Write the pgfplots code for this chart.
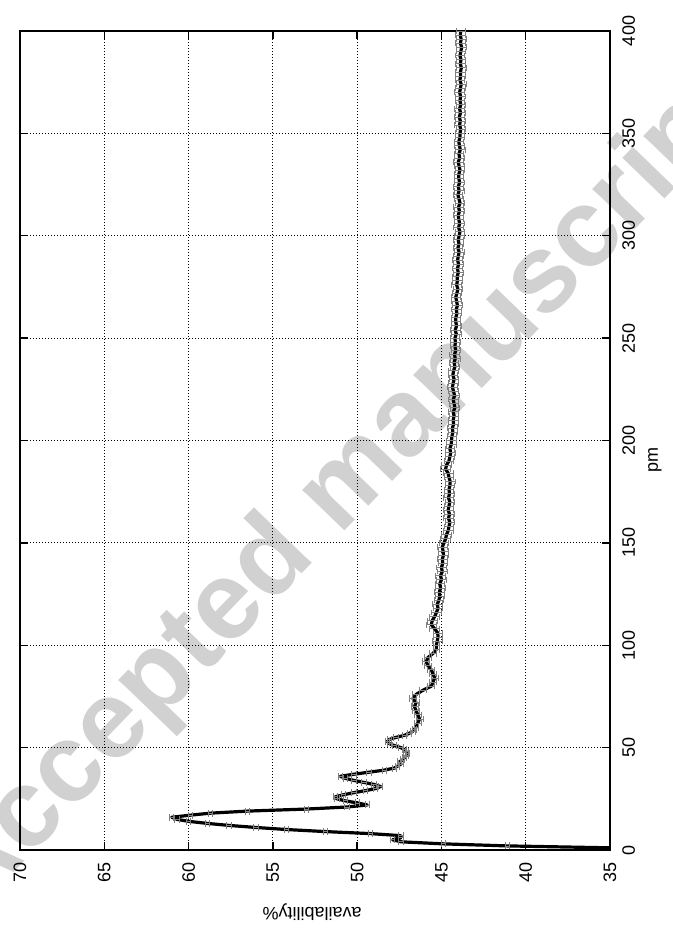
\documentclass[border=0pt]{standalone}
\usepackage{fontspec}
\setmainfont{Liberation Sans}
\usepackage{pgfplots}
\usepackage{pgfplotstable}
\pgfplotsset{compat=1.18}
\definecolor{mk}{gray}{0.5}
\definecolor{wm}{gray}{0.82}

\pgfdeclareplotmark{ebarA}{%
 \pgfpathmoveto{\pgfqpoint{-1.6pt}{-2.6pt}}\pgfpathlineto{\pgfqpoint{-1.6pt}{2.6pt}}%
 \pgfpathmoveto{\pgfqpoint{1.6pt}{-2.6pt}}\pgfpathlineto{\pgfqpoint{1.6pt}{2.6pt}}%
 \pgfpathmoveto{\pgfqpoint{-1.6pt}{0pt}}\pgfpathlineto{\pgfqpoint{1.6pt}{0pt}}%
 \pgfusepathqstroke}
\pgfdeclareplotmark{ebarB}{%
 \pgfpathmoveto{\pgfqpoint{-2.6pt}{-2.4pt}}\pgfpathlineto{\pgfqpoint{-2.6pt}{2.4pt}}%
 \pgfpathmoveto{\pgfqpoint{2.6pt}{-2.4pt}}\pgfpathlineto{\pgfqpoint{2.6pt}{2.4pt}}%
 \pgfpathmoveto{\pgfqpoint{-2.6pt}{0pt}}\pgfpathlineto{\pgfqpoint{2.6pt}{0pt}}%
 \pgfusepathqstroke}
\pgfdeclareplotmark{ebarC}{%
 \pgfpathmoveto{\pgfqpoint{-3.6pt}{-2.2pt}}\pgfpathlineto{\pgfqpoint{-3.6pt}{2.2pt}}%
 \pgfpathmoveto{\pgfqpoint{3.6pt}{-2.2pt}}\pgfpathlineto{\pgfqpoint{3.6pt}{2.2pt}}%
 \pgfpathmoveto{\pgfqpoint{-3.6pt}{0pt}}\pgfpathlineto{\pgfqpoint{3.6pt}{0pt}}%
 \pgfusepathqstroke}

\pgfplotstableread{
pm av
1 34.6
2 41.1
3 44.9
4 47.4
5 47.9
6 47.4
7 47.4
8 49.2
9 51.9
10 54.2
11 56.0
12 57.6
13 58.9
14 60.0
15 60.7
16 61.0
17 59.9
18 58.7
19 56.5
20 53.0
21 50.6
22 49.4
23 50.0
24 50.7
25 51.2
26 51.3
27 50.8
28 50.2
29 49.5
30 48.9
31 48.6
32 49.0
33 49.6
34 50.2
35 50.7
36 51.0
37 50.2
38 49.3
39 48.4
40 47.8
41 47.6
42 47.4
43 47.5
44 47.3
45 47.2
46 47.1
47 47.0
48 47.1
49 47.2
50 47.4
51 47.8
52 48.1
53 48.2
54 48.1
55 47.7
56 47.2
57 46.9
58 46.7
59 46.6
60 46.5
62 46.4
64 46.3
66 46.4
68 46.5
70 46.6
72 46.5
74 46.7
76 46.5
78 46.1
80 45.6
82 45.5
84 45.4
86 45.5
88 45.6
90 45.8
92 45.9
94 45.8
96 45.5
98 45.3
100 45.30
102 45.25
104 45.20
106 45.22
108 45.40
110 45.60
112 45.55
114 45.40
116 45.30
118 45.20
120 45.25
122 45.15
124 45.10
126 45.12
128 45.05
130 45.10
132 45.00
134 45.05
136 44.95
138 45.00
140 44.92
142 44.95
144 44.88
146 44.90
148 44.95
150 44.85
152 44.75
154 44.70
156 44.60
158 44.55
160 44.50
162 44.58
164 44.52
166 44.60
168 44.55
170 44.50
172 44.58
174 44.52
176 44.55
178 44.50
180 44.48
182 44.55
184 44.60
186 44.75
188 44.70
190 44.55
192 44.50
194 44.45
196 44.50
198 44.42
200 44.40
202 44.38
204 44.32
206 44.35
208 44.28
210 44.30
212 44.25
214 44.30
216 44.20
218 44.25
220 44.30
222 44.22
224 44.28
226 44.35
228 44.30
230 44.25
232 44.32
234 44.28
236 44.20
238 44.25
240 44.18
242 44.22
244 44.15
246 44.20
248 44.17
250 44.20
252 44.12
254 44.18
256 44.10
258 44.15
260 44.15
262 44.08
264 44.12
266 44.05
268 44.10
270 44.15
272 44.08
274 44.02
276 44.10
278 44.05
280 44.07
282 44.00
284 44.05
286 43.98
288 44.04
290 44.00
292 43.95
294 44.02
296 43.96
298 44.00
300 43.95
302 43.90
304 43.98
306 43.92
308 43.97
310 44.00
312 43.93
314 43.98
316 43.90
318 43.96
320 44.02
322 43.95
324 44.00
326 43.92
328 43.97
330 43.97
332 43.90
334 43.95
336 44.00
338 43.92
340 43.96
342 43.88
344 43.93
346 43.97
348 43.90
350 43.90
352 43.85
354 43.92
356 43.88
358 43.94
360 43.87
362 43.92
364 43.85
366 43.90
368 43.86
370 43.92
372 43.87
374 43.83
376 43.90
378 43.86
380 43.87
382 43.82
384 43.88
386 43.84
388 43.90
390 43.85
392 43.80
394 43.87
396 43.83
398 43.88
400 43.85
}\data

\begin{document}
\begin{tikzpicture}
\node[rotate=46, text=wm, font=\fontsize{83}{83}\selectfont\bfseries] at (256.5pt,328.5pt) {Accepted manuscript};
\begin{axis}[
  at={(15pt,60pt)}, anchor=south west,
  scale only axis, width=442.5pt, height=614.25pt,
  xmin=35, xmax=70, x dir=reverse, ymin=0, ymax=400,
  xtick={35,40,...,70}, ytick={0,50,...,400},
  tick align=inside, major tick length=6pt,
  xticklabel pos=left, yticklabel pos=right,
  xtick pos=both, ytick pos=both,
  grid=major,
  major grid style={black, line width=0.6pt, dash pattern=on 0.6pt off 1.65pt},
  axis line style={black, line width=1.1pt},
  every tick/.style={black, line width=1.1pt},
  tick label style={font=\fontsize{13.5}{16}\selectfont, inner sep=0pt},
  xticklabel style={yshift=-9pt, rotate=90, anchor=east},
  yticklabel style={xshift=9pt, rotate=90, anchor=north},
  /pgf/number format/assume math mode=true,
  xlabel={availability\%}, ylabel={pm},
  label style={font=\fontsize{13.5}{16}\selectfont},
  xlabel style={at={(axis description cs:0.495,-0.0757)}, anchor=center, rotate=180},
  ylabel style={at={(axis description cs:1.076,0.476)}, anchor=center},
]
\addplot[mk, line width=0.6pt, only marks, mark=ebarA, restrict y to domain=0:60]
  table[x=av, y=pm] {\data};
\addplot[mk, line width=0.6pt, only marks, mark=ebarB, restrict y to domain=61:100]
  table[x=av, y=pm] {\data};
\addplot[mk, line width=0.6pt, only marks, mark=ebarC, restrict y to domain=101:400]
  table[x=av, y=pm] {\data};
\addplot[black, line width=2.4pt, line join=round, no marks] table[x=av, y=pm] {\data};
\end{axis}
\pgfresetboundingbox
\path[use as bounding box] (0,0) rectangle (504pt,697.5pt);
\end{tikzpicture}
\end{document}
